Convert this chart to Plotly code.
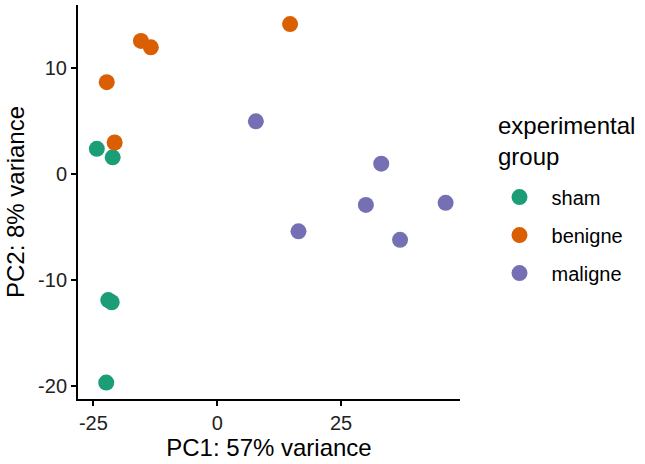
import plotly.graph_objects as go

groups = ["sham", "benigne", "maligne"]
colors = ["#1B9E77", "#D95F02", "#7570B3"]

sham_pc1 = [-24.3, -21.1, -22.0, -21.3, -22.4]
sham_pc2 = [2.4, 1.6, -11.9, -12.1, -19.7]
benigne_pc1 = [-22.3, -20.7, -15.4, -13.4, 14.7]
benigne_pc2 = [8.7, 3.0, 12.6, 12.0, 14.2]
maligne_pc1 = [7.8, 16.4, 33.1, 30.0, 36.9, 46.1]
maligne_pc2 = [5.0, -5.4, 1.0, -2.9, -6.2, -2.7]

x_ticks = [-25, 0, 25]
y_ticks = [-20, -10, 0, 10]

legend_title = "experimental<br>group"

data = [(sham_pc1, sham_pc2), (benigne_pc1, benigne_pc2), (maligne_pc1, maligne_pc2)]

fig = go.Figure()
for g, c, (xs, ys) in zip(groups, colors, data):
    fig.add_trace(go.Scatter(
        x=xs, y=ys, mode="markers", name=g, legendgroup=g,
        marker=dict(size=16, color=c, line=dict(width=0)),
    ))

font_family = "Liberation Sans, Arial, sans-serif"
fig.update_layout(
    width=645, height=464,
    margin=dict(l=78, r=185, t=5, b=65, autoexpand=False),
    plot_bgcolor="white", paper_bgcolor="white",
    font=dict(family=font_family, color="black"),
    showlegend=True,
    legend=dict(
        font=dict(size=20, color="black"),
        x=1.072, xanchor="left", y=0.562, yanchor="top",
        tracegroupgap=9, itemsizing="trace", itemwidth=54,
        bgcolor="rgba(0,0,0,0)",
    ),
    xaxis=dict(
        range=[-28.1, 49.0], tickvals=x_ticks, ticktext=[str(v) for v in x_ticks],
        showgrid=False, zeroline=False, showline=True, linecolor="black", linewidth=2,
        ticks="outside", ticklen=5, tickwidth=1.5, tickcolor="black", automargin=False,
        tickfont=dict(size=20, color="#222222"),
        title=dict(text="PC1: 57% variance", font=dict(size=24), standoff=4),
    ),
    yaxis=dict(
        range=[-21.25, 16.0], tickvals=y_ticks, ticktext=[str(v) for v in y_ticks],
        showgrid=False, zeroline=False, showline=True, linecolor="black", linewidth=2,
        ticks="outside", ticklen=5, tickwidth=1.5, tickcolor="black", automargin=False,
        tickfont=dict(size=20, color="#222222"),
        title=dict(text="PC2: 8% variance", font=dict(size=24), standoff=7),
    ),
    annotations=[dict(
        text=legend_title, xref="paper", yref="paper", x=1.093, y=0.733,
        xanchor="left", yanchor="top", align="left", showarrow=False,
        font=dict(size=24, color="black"),
    )],
)

fig.write_html("out.html", config={"displayModeBar": False},
               post_script="document.body.style.margin='0';")
